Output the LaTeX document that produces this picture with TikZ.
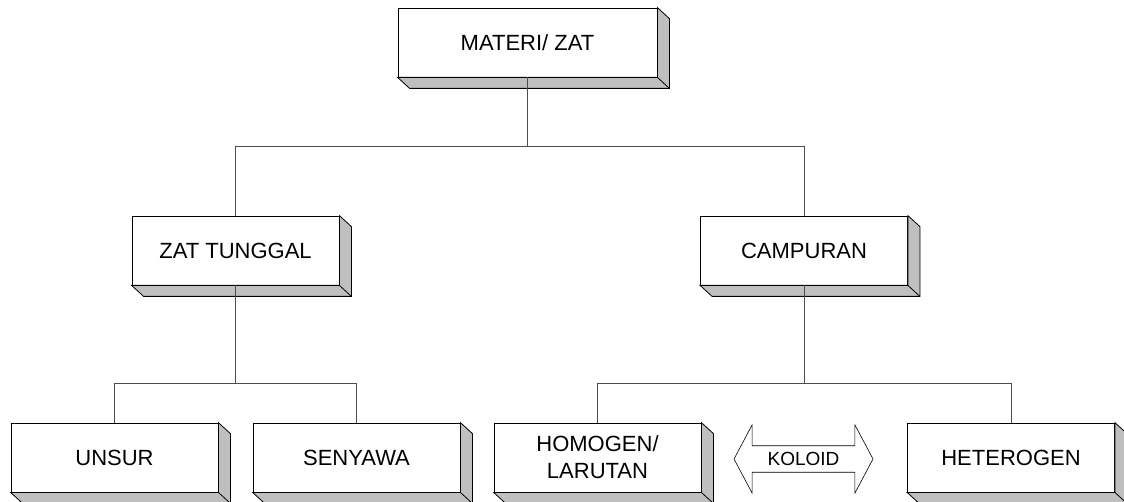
\documentclass[tikz,border=0pt]{standalone}
\usepackage{fontspec}
\setmainfont{Liberation Sans}
\usetikzlibrary{calc, shapes.arrows}

\tikzset{
  box/.style={draw, fill=white, minimum width=207pt, minimum height=69pt,
    inner sep=0pt, align=center, font=\fontsize{22}{27}\selectfont},
  boxside/.style={draw, fill=black!25},
  link/.style={draw, black!70}
}

\begin{document}
\begin{tikzpicture}[x=1pt, y=-1pt, line width=0.8pt]
  \useasboundingbox (0,0) rectangle (1124,502);
  % boxes
  \node[box, minimum width=259pt] (materi) at (527.5,42.5) {MATERI/ ZAT};
  \node[box] (tunggal) at (235.5,250.5) {ZAT TUNGGAL};
  \node[box] (campuran) at (804,250.5) {CAMPURAN};
  \node[box] (unsur) at (114.5,457.5) {UNSUR};
  \node[box] (senyawa) at (356.5,457.5) {SENYAWA};
  \node[box] (homogen) at (597.5,457.5) {HOMOGEN/\\LARUTAN};
  \node[box] (heterogen) at (1011,457.5) {HETEROGEN};
  % depth of the boxes
  \foreach \n in {materi,tunggal,campuran,unsur,senyawa,homogen,heterogen} {
    \filldraw[boxside] (\n.north east) -- ($(\n.north east)+(12,11)$)
      -- ($(\n.south east)+(12,11)$) -- ($(\n.south west)+(12,11)$)
      -- (\n.south west) -- (\n.south east) -- cycle;
    \draw (\n.south east) -- ($(\n.south east)+(12,11)$);
  }
  % tree lines
  \draw[link] (materi.south) -- ++(0,69) coordinate (j1);
  \draw[link] (tunggal.north) |- (j1) -| (campuran.north);
  \draw[link] (tunggal.south) -- ++(0,98) coordinate (j2);
  \draw[link] (unsur.north) |- (j2) -| (senyawa.north);
  \draw[link] (campuran.south) -- ++(0,98) coordinate (j3);
  \draw[link] (homogen.north) |- (j3) -| (heterogen.north);
  % koloid
  \node[double arrow, draw, line width=0.6pt, minimum height=139pt,
    minimum width=68pt, double arrow head extend=11pt,
    double arrow tip angle=124, inner sep=0pt,
    font=\fontsize{19}{22}\selectfont] (koloid) at (803.5,459) {KOLOID};
\end{tikzpicture}
\end{document}
